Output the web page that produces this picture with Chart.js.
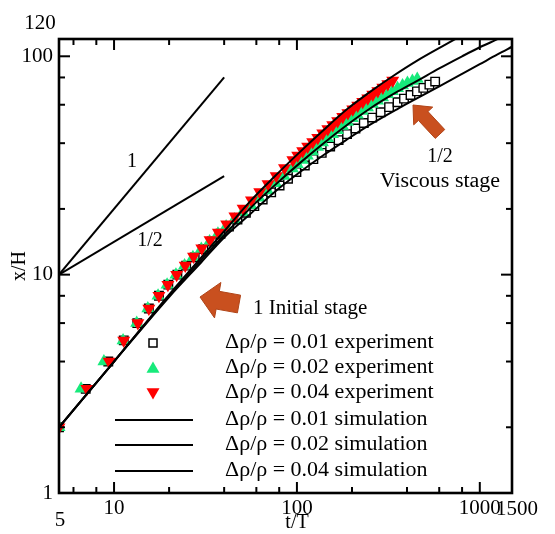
<!DOCTYPE html>
<html><head><meta charset="utf-8">
<script src="https://cdn.jsdelivr.net/npm/chart.js@4.4.1/dist/chart.umd.min.js"></script>
<style>html,body{margin:0;padding:0;background:#fff;}canvas{display:block;}</style>
</head><body>
<canvas id="c" width="555" height="534"></canvas>
<script>
// ---- axis ticks ----
const xMajorTicks = [10, 100, 1000];
const xMinorTicks = [6, 8, 20, 40, 60, 80, 200, 400, 600, 800];
const xEdgeLabels = [5, 1500];
const yMajorTicks = [1, 10, 100];
const yMinorTicks = [2, 4, 6, 8, 20, 40, 60, 80];
const yEdgeLabels = [120];

// ---- experiment: Δρ/ρ = 0.01 (squares) ----
const exp001T = [5, 7, 9.3, 11.3, 13.4, 15.5, 17.6, 19.8, 22.2, 24.8, 27.6, 30.8, 34.3, 38.2, 42.5, 47.3, 52.6, 58.5, 65, 72.3, 80.4, 89.4, 99.4, 110.5, 123, 136.7, 152, 169, 188, 209, 232, 258, 287, 319, 355, 385, 418, 453, 491, 530, 570];
const exp001Y = [2, 3, 4, 5, 6, 7, 8, 9, 10, 11, 12, 13.1, 14.2, 15.4, 16.6, 17.9, 19.2, 20.6, 22.1, 23.8, 25.6, 27.5, 29.5, 31.6, 33.8, 36.1, 38.6, 41.3, 44, 46.7, 49.5, 52.4, 55.4, 58.5, 61.6, 64, 66.5, 69.1, 71.7, 74.2, 76.6];
// ---- experiment: Δρ/ρ = 0.02 (up triangles) ----
const exp002T = [5, 6.6, 8.8, 11.2, 13.3, 15.3, 17.4, 19.5, 21.8, 24.3, 27, 30, 33.3, 37, 41, 45.5, 50.5, 56, 62, 69, 76.5, 85, 94.5, 100.5, 107, 114, 121.5, 129.5, 138, 147, 156.5, 166.5, 177.5, 189, 201, 214, 228, 243, 259, 276, 294, 313, 333, 355, 378, 402, 428, 455];
const exp002Y = [2, 3, 4, 5, 6, 7, 8, 9, 10, 11, 12, 13.1, 14.2, 15.4, 16.6, 17.9, 19.3, 20.8, 22.5, 24.3, 26.2, 28.3, 30.6, 32, 33.5, 35, 36.6, 38.4, 40.3, 42.1, 44, 45.9, 47.9, 50, 52, 54, 56.1, 58.2, 60.4, 62.6, 64.8, 67, 69.2, 71.3, 73.4, 75.4, 77.1, 78.6];
// ---- experiment: Δρ/ρ = 0.04 (down triangles) ----
const exp004T = [5, 7.1, 9.4, 11.3, 13.5, 15.5, 17.6, 19.7, 22, 24.5, 27.2, 30.2, 33.5, 37.2, 41.3, 45.8, 50.8, 56.4, 62.6, 69.5, 77, 85.5, 95, 101, 107.5, 114.5, 122, 130, 138.5, 147.5, 157, 167, 178, 190, 202, 215, 229, 244, 260, 277, 295, 314, 334];
const exp004Y = [2, 3, 4, 5, 6, 7, 8, 9, 10, 11, 12.1, 13.2, 14.4, 15.6, 17, 18.5, 20.1, 21.9, 23.9, 26, 28.3, 30.8, 33.5, 35.1, 36.8, 38.6, 40.5, 42.4, 44.4, 46.4, 48.5, 50.6, 52.8, 55, 57.2, 59.5, 61.9, 64.3, 66.8, 69.4, 72, 74.6, 77.5];

// ---- simulations ----
const sim001T = [5, 10, 20, 30, 40, 55, 75, 104, 140, 187, 250, 356, 450, 604, 800, 1000, 1250, 1513];
const sim001Y = [2, 4, 7.9, 11.4, 14.8, 18.8, 23.8, 29.5, 35.3, 41.5, 48.5, 57.5, 64, 73, 83, 92, 102, 111];
const sim002T = [5, 10, 20, 30, 40, 55, 75, 104, 140, 187, 250, 356, 452, 600, 800, 1000, 1285, 1500];
const sim002Y = [2, 4, 8, 11.7, 15.2, 20, 25.5, 32.5, 40, 48.3, 57.5, 69, 77, 88, 100, 110, 121, 129];
const sim004T = [5, 10, 20, 30, 40, 55, 75, 104, 140, 187, 250, 334, 450, 685, 1000, 1500];
const sim004Y = [2, 4, 8.1, 12, 15.8, 21.5, 28, 36.5, 46, 57, 68.5, 81, 95, 116, 139, 170];

// ---- slope guide lines ----
const guideT = [5, 40];
const guideSlope1 = [10, 80];
const guideSlopeHalf = [10, 28.28];

const legendLabels = ['Δρ/ρ = 0.01 experiment', 'Δρ/ρ = 0.02 experiment', 'Δρ/ρ = 0.04 experiment',
                      'Δρ/ρ = 0.01 simulation', 'Δρ/ρ = 0.02 simulation', 'Δρ/ρ = 0.04 simulation'];

const SERIF = '"Liberation Serif", "Times New Roman", serif';
const pts = (T, Y) => T.map((t, i) => ({x: t, y: Y[i]}));
const GREEN = '#17ea7b', RED = '#ff0000', ORANGE = '#c9501f';

function simLine(T, Y) {
  return {data: pts(T, Y), showLine: true, borderColor: '#000', borderWidth: 2, pointRadius: 0,
          cubicInterpolationMode: 'monotone', fill: false, order: 0};
}

function txt(ctx, s, x, y, size, align, sx) {
  ctx.save();
  ctx.font = size + 'px ' + SERIF;
  ctx.textAlign = align; ctx.textBaseline = 'middle'; ctx.fillStyle = '#000';
  ctx.translate(x, y); ctx.scale(sx || 1, 1);
  ctx.fillText(s, 0, 0);
  ctx.restore();
}
function arrow(ctx, tx, ty, px, py, shaftHalf, headHalf, headLen) {
  const dx = px - tx, dy = py - ty, L = Math.hypot(dx, dy);
  const ux = dx / L, uy = dy / L, nx = -uy, ny = ux;
  const bx = px - ux * headLen, by = py - uy * headLen;
  ctx.save();
  ctx.beginPath();
  ctx.moveTo(tx + nx * shaftHalf, ty + ny * shaftHalf);
  ctx.lineTo(bx + nx * shaftHalf, by + ny * shaftHalf);
  ctx.lineTo(bx + nx * headHalf, by + ny * headHalf);
  ctx.lineTo(px, py);
  ctx.lineTo(bx - nx * headHalf, by - ny * headHalf);
  ctx.lineTo(bx - nx * shaftHalf, by - ny * shaftHalf);
  ctx.lineTo(tx - nx * shaftHalf, ty - ny * shaftHalf);
  ctx.closePath();
  ctx.fillStyle = ORANGE; ctx.fill();
  ctx.strokeStyle = '#b04418'; ctx.lineWidth = 1; ctx.stroke();
  ctx.restore();
}
function tri(ctx, x, y, r, down, color) {
  ctx.save(); ctx.beginPath();
  const s = down ? -1 : 1;
  ctx.moveTo(x, y - s * r);
  ctx.lineTo(x + r * 0.866, y + s * r * 0.5);
  ctx.lineTo(x - r * 0.866, y + s * r * 0.5);
  ctx.closePath(); ctx.fillStyle = color; ctx.fill(); ctx.restore();
}

const decor = {
  id: 'decor',
  afterDatasetsDraw(chart) {
    const {ctx, chartArea: a, scales: {x, y}} = chart;
    ctx.save();
    ctx.strokeStyle = '#000';
    ctx.lineWidth = 2;
    const seg = (x1, y1, x2, y2) => { ctx.beginPath(); ctx.moveTo(x1, y1); ctx.lineTo(x2, y2); ctx.stroke(); };
    xMajorTicks.forEach(v => { const p = x.getPixelForValue(v); seg(p, a.bottom, p, a.bottom - 11); seg(p, a.top, p, a.top + 11); });
    xMinorTicks.forEach(v => { const p = x.getPixelForValue(v); seg(p, a.bottom, p, a.bottom - 6); seg(p, a.top, p, a.top + 6); });
    yMajorTicks.forEach(v => { const p = y.getPixelForValue(v); seg(a.left, p, a.left + 11, p); seg(a.right, p, a.right - 11, p); });
    yMinorTicks.forEach(v => { const p = y.getPixelForValue(v); seg(a.left, p, a.left + 6, p); seg(a.right, p, a.right - 6, p); });
    ctx.lineWidth = 2.6;
    ctx.strokeRect(a.left, a.top, a.right - a.left, a.bottom - a.top);
    ctx.restore();
  },
  afterDraw(chart) {
    const {ctx, chartArea: a, scales: {x, y}} = chart;
    // edge tick labels
    txt(ctx, String(yEdgeLabels[0]), a.left - 19, y.getPixelForValue(yEdgeLabels[0]) - 16, 21, 'center');
    txt(ctx, String(xEdgeLabels[0]), x.getPixelForValue(xEdgeLabels[0]) + 1, 520, 21, 'center');
    txt(ctx, String(xEdgeLabels[1]), x.getPixelForValue(xEdgeLabels[1]) + 5, 509, 21, 'center');
    // axis title t/T
    txt(ctx, 't/T', 297, 523, 20, 'center');
    // slope labels
    txt(ctx, '1', 132, 162, 20, 'center');
    txt(ctx, '1/2', 150, 241, 20, 'center');
    txt(ctx, '1/2', 440, 157, 20, 'center');
    txt(ctx, 'Viscous stage', 440, 182, 20, 'center', 1.1);
    txt(ctx, '1 Initial stage', 253, 309, 20, 'left', 1.05);
    // arrows
    arrow(ctx, 239, 304, 200, 297, 9, 18, 18);
    arrow(ctx, 440, 134, 413, 105, 6.5, 13, 15);
    // legend
    const rows = [343, 368, 393, 420, 445, 471];
    ctx.save();
    ctx.fillStyle = '#fff'; ctx.strokeStyle = '#000'; ctx.lineWidth = 1.5;
    ctx.fillRect(149, rows[0] - 4, 8, 8); ctx.strokeRect(149, rows[0] - 4, 8, 8);
    ctx.restore();
    tri(ctx, 153, rows[1] + 1, 7.5, false, GREEN);
    tri(ctx, 153, rows[2] - 1, 7.5, true, RED);
    ctx.save(); ctx.strokeStyle = '#000'; ctx.lineWidth = 2;
    for (let i = 3; i < 6; i++) { ctx.beginPath(); ctx.moveTo(115, rows[i]); ctx.lineTo(193, rows[i]); ctx.stroke(); }
    ctx.restore();
    legendLabels.forEach((s, i) => txt(ctx, s, 225, rows[i], 20, 'left', 1.1));
  }
};

new Chart(document.getElementById('c'), {
  type: 'scatter',
  data: {
    datasets: [
      simLine(sim001T, sim001Y),
      simLine(sim002T, sim002Y),
      simLine(sim004T, sim004Y),
      {data: pts(guideT, guideSlope1), showLine: true, borderColor: '#000', borderWidth: 2, pointRadius: 0, order: 0},
      {data: pts(guideT, guideSlopeHalf), showLine: true, borderColor: '#000', borderWidth: 2, pointRadius: 0, order: 0},
      {data: pts(exp004T, exp004Y), pointStyle: 'triangle', rotation: 180, pointRadius: 7.5,
       backgroundColor: RED, borderColor: RED, borderWidth: 0, order: 1},
      {data: pts(exp002T, exp002Y), pointStyle: 'triangle', pointRadius: 7.5,
       backgroundColor: GREEN, borderColor: GREEN, borderWidth: 0, order: 2},
      {data: pts(exp001T, exp001Y), pointStyle: 'rect', pointRadius: 6,
       backgroundColor: '#fff', borderColor: '#000', borderWidth: 1.4, order: 3}
    ]
  },
  options: {
    responsive: false, animation: false, devicePixelRatio: 1,
    layout: {padding: {top: 39, right: 43, left: 0, bottom: 0}},
    plugins: {legend: {display: false}, tooltip: {enabled: false}},
    scales: {
      x: {
        type: 'logarithmic', min: 5, max: 1500, position: 'bottom',
        afterBuildTicks: s => { s.ticks = xMajorTicks.map(v => ({value: v})); },
        afterFit: s => { s.height = 41; },
        grid: {display: false, drawTicks: false}, border: {display: false},
        ticks: {font: {family: SERIF, size: 21}, color: '#000', padding: 3, maxRotation: 0, autoSkip: false,
                callback: v => String(v)}
      },
      y: {
        type: 'logarithmic', min: 1, max: 120, position: 'left',
        afterBuildTicks: s => { s.ticks = yMajorTicks.map(v => ({value: v})); },
        afterFit: s => { s.width = 59; },
        grid: {display: false, drawTicks: false}, border: {display: false},
        title: {display: true, text: 'x/H', font: {family: SERIF, size: 20}, color: '#000', padding: {top: 8, bottom: 0}},
        ticks: {font: {family: SERIF, size: 21}, color: '#000', padding: 6, autoSkip: false,
                callback: v => String(v)}
      }
    }
  },
  plugins: [decor]
});
</script></body></html>
